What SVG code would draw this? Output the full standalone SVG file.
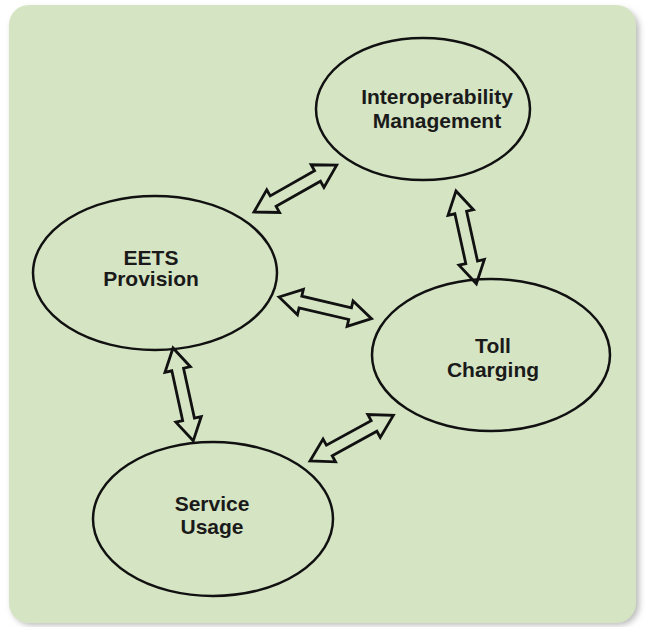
<svg xmlns="http://www.w3.org/2000/svg" width="646" height="627" viewBox="0 0 646 627">
<defs>
<filter id="sh" x="-5%" y="-5%" width="110%" height="110%"><feGaussianBlur stdDeviation="3"/></filter>
<polygon id="dbl" points="0,0 22,-13 22,-6 73,-6 73,-13 95,0 73,13 73,6 22,6 22,13"/>
</defs>
<style>
.node ellipse{fill:none;stroke:#111;stroke-width:2.5}
.node text{font-family:"Liberation Sans",Arial,sans-serif;font-weight:bold;font-size:21px;fill:#1a1a1a;text-anchor:middle}
.conn use{fill:none;stroke:#111;stroke-width:2.8;stroke-linejoin:miter}
</style>
<rect x="0" y="0" width="646" height="627" fill="#ffffff"/>
<rect x="12" y="9" width="627" height="616" rx="20" fill="#b8b8b8" filter="url(#sh)"/>
<rect x="9" y="5" width="627" height="618" rx="20" fill="#d5e5c3"/>
<g id="interop" class="node">
<ellipse cx="423" cy="109" rx="107" ry="71"/>
<text x="437" y="104">Interoperability</text>
<text x="437" y="128">Management</text>
</g>
<g id="eets" class="node">
<ellipse cx="155" cy="273" rx="122" ry="77"/>
<text x="151" y="265">EETS</text>
<text x="151" y="286">Provision</text>
</g>
<g id="toll" class="node">
<ellipse cx="491" cy="355" rx="119" ry="76"/>
<text x="493" y="353">Toll</text>
<text x="493" y="377">Charging</text>
</g>
<g id="service" class="node">
<ellipse cx="213" cy="519" rx="120" ry="77"/>
<text x="212" y="511">Service</text>
<text x="212" y="534">Usage</text>
</g>
<g id="connectors" class="conn">
<use href="#dbl" transform="translate(254,212) rotate(-29.5)"/>
<use href="#dbl" transform="translate(279,297) rotate(13.2)"/>
<use href="#dbl" transform="translate(456,191) rotate(77.6)"/>
<use href="#dbl" transform="translate(173,348) rotate(77.7)"/>
<use href="#dbl" transform="translate(310,461) rotate(-28.7)"/>
</g>
</svg>
